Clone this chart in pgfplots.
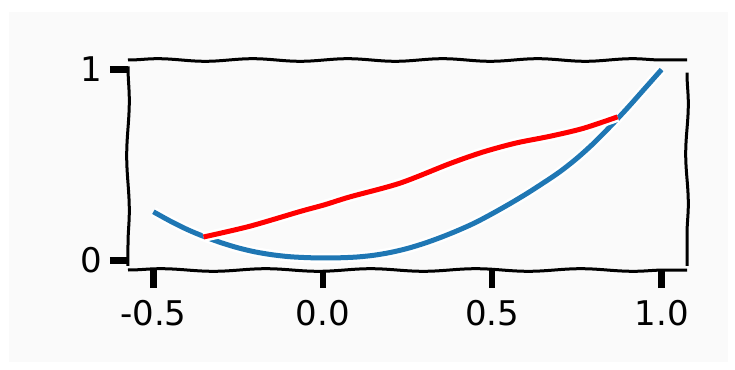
\documentclass[border=0pt]{standalone}
\usepackage{pgfplots}
\pgfplotsset{compat=1.18}
\usepackage{fontspec}
\setmainfont{DejaVu Sans}
\usetikzlibrary{decorations.pathmorphing}
\definecolor{bgray}{HTML}{FAFAFA}
\definecolor{mblue}{HTML}{1F77B4}
\definecolor{mred}{HTML}{FF0000}
\pgfplotstableread{
x y
-0.50 0.255
-0.45 0.206
-0.40 0.162
-0.35 0.125
-0.30 0.093
-0.25 0.066
-0.20 0.045
-0.15 0.030
-0.10 0.020
-0.05 0.015
0.00 0.013
0.05 0.014
0.10 0.018
0.15 0.027
0.20 0.042
0.25 0.063
0.30 0.090
0.35 0.122
0.40 0.158
0.45 0.198
0.50 0.245
0.55 0.295
0.60 0.348
0.65 0.405
0.70 0.465
0.75 0.535
0.80 0.615
0.85 0.705
0.90 0.800
0.95 0.900
1.00 1.000
}\bluedata
\pgfplotstableread{
x y
-0.352 0.123
-0.216 0.179
-0.068 0.256
0.006 0.292
0.080 0.333
0.228 0.405
0.376 0.508
0.473 0.568
0.570 0.615
0.672 0.651
0.769 0.692
0.870 0.752
}\reddata
\begin{document}
\begin{tikzpicture}
\fill[white] (-128pt,-99pt) rectangle (607pt,270pt);
\fill[bgray] (-119pt,-92pt) rectangle (600pt,258pt);
\begin{axis}[
  at={(0,0)}, anchor=south west,
  scale only axis,
  width=559pt, height=210pt,
  xmin=-0.575, xmax=1.075,
  ymin=-0.05, ymax=1.05,
  axis line style={draw=none},
  axis background/.style={fill=bgray},
  xtick={-0.5,0,0.5,1},
  xticklabels={-0.5,0.0,0.5,1.0},
  ytick={0,1},
  yticklabels={0,1},
  tick align=outside,
  major tick length=18pt,
  every tick/.style={black, line width=6.5pt},
  xtick pos=bottom, ytick pos=left,
  ticklabel style={font=\fontsize{34}{40}\selectfont},
  xticklabel style={yshift=-9pt},
  yticklabel style={xshift=-4pt},
  clip=false,
]
\addplot[white, line width=10pt, smooth] table[x=x,y=y] {\bluedata};
\addplot[mblue, line width=5pt, smooth] table[x=x,y=y] {\bluedata};
\addplot[white, line width=10pt, smooth] table[x=x,y=y] {\reddata};
\addplot[mred, line width=5pt, smooth] table[x=x,y=y] {\reddata};
\draw[black, line width=3pt, decorate, decoration={snake, amplitude=1.3pt, segment length=95pt}]
  (rel axis cs:0,1) -- (rel axis cs:1,1);
\draw[black, line width=3pt, decorate, decoration={snake, amplitude=1.3pt, segment length=105pt}]
  (rel axis cs:0,0) -- (rel axis cs:1,0);
\draw[black, line width=3pt, decorate, decoration={snake, amplitude=1.3pt, segment length=110pt}]
  (rel axis cs:0,0.97) -- (rel axis cs:0,0.02);
\draw[black, line width=3pt, decorate, decoration={snake, amplitude=1.3pt, segment length=100pt}]
  (rel axis cs:1,0.94) -- (rel axis cs:1,0.02);
\end{axis}
\end{tikzpicture}
\end{document}
